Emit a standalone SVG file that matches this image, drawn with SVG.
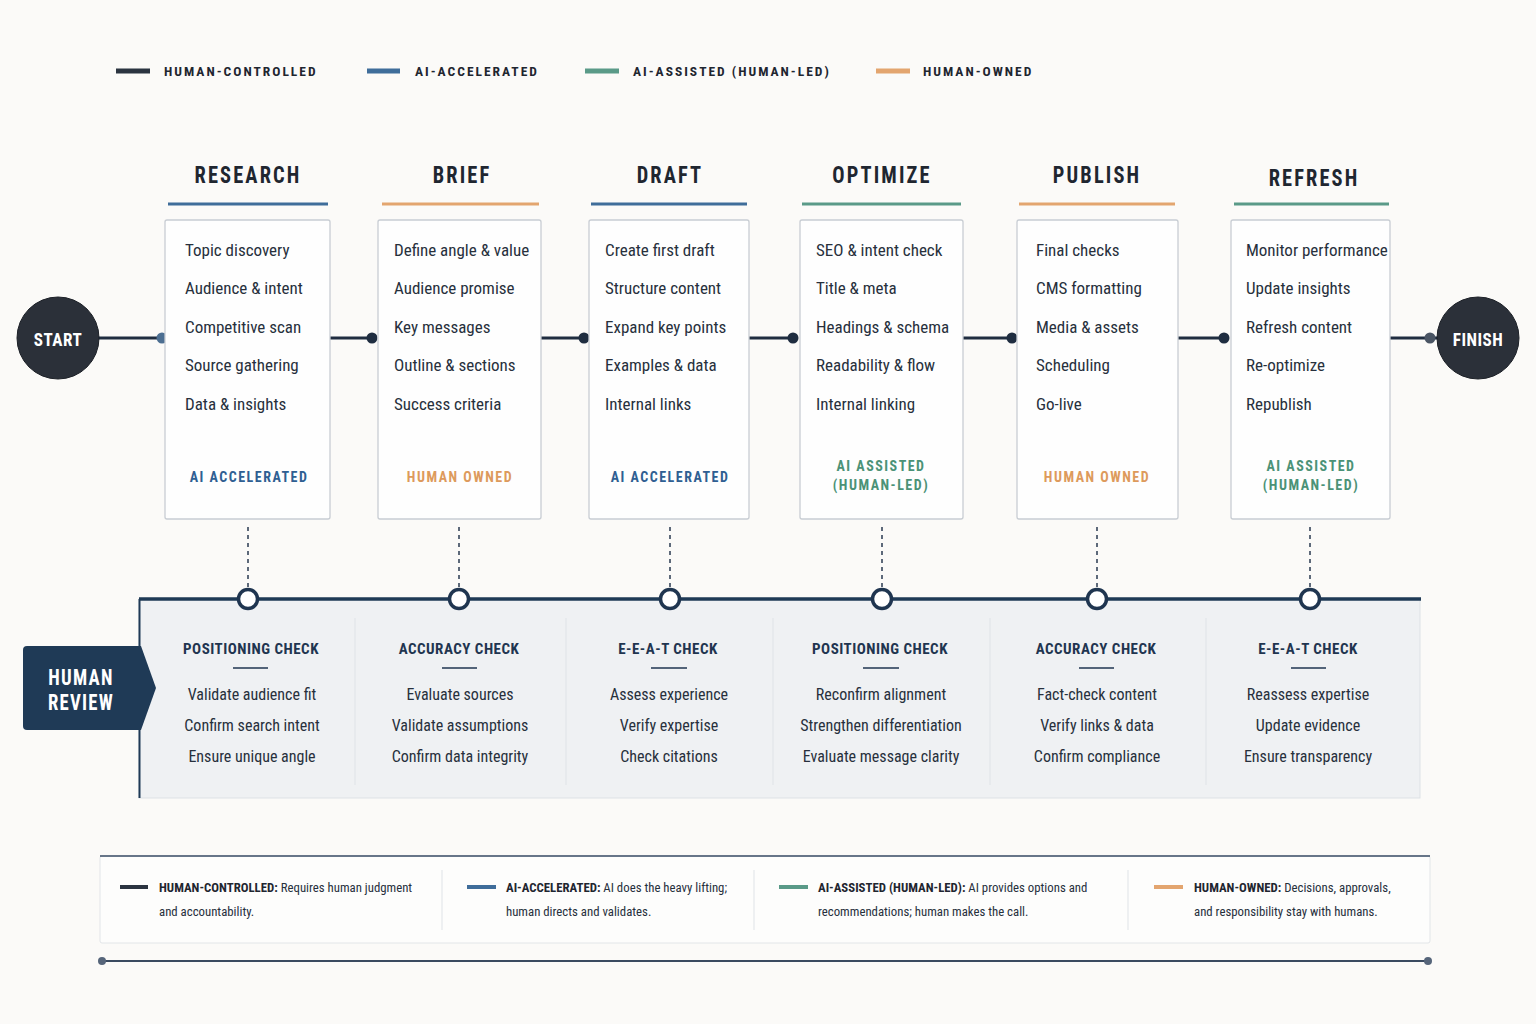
<svg xmlns="http://www.w3.org/2000/svg" width="1536" height="1024" viewBox="0 0 1536 1024">
<style>
text{font-family:"Roboto Condensed","Liberation Sans Narrow","DejaVu Sans Condensed","Roboto",sans-serif;transform-box:fill-box;}
.leg{font-size:13.5px;letter-spacing:2px;fill:#1f2630;font-weight:bold;}
.title{font-size:24px;font-weight:bold;letter-spacing:2.5px;fill:#1f2630;text-anchor:middle;transform:scaleX(0.85);transform-origin:center;}
.box{fill:#fefefe;stroke:#c8cdd3;stroke-width:1.3;}
.item{font-size:17px;fill:#27303c;}
.tag{font-size:14px;font-weight:bold;letter-spacing:1.5px;text-anchor:middle;}
.blue{fill:#2f5f92;} .orange{fill:#dd9a5c;} .green{fill:#4b9277;}
.conn{stroke:#1f2d40;stroke-width:3;fill:none;}
.dot{fill:#1f2d40;}
.vdash{stroke:#2a3a50;stroke-width:1.5;stroke-dasharray:4 4;}
.ring{fill:#ffffff;stroke:#1f3550;stroke-width:3.5;}
.rh{font-size:15px;font-weight:bold;fill:#1f3550;text-anchor:middle;letter-spacing:0.5px;}
.ri{font-size:16px;fill:#27303c;text-anchor:middle;}
.rdiv{stroke:#dfe3e7;stroke-width:1;}
.bl{font-size:12.8px;fill:#27303c;}
.blb{font-weight:bold;fill:#1f2630;}
.circ{font-size:19px;font-weight:bold;fill:#ffffff;letter-spacing:0.5px;text-anchor:middle;transform:scaleX(0.9);transform-origin:center;}
.hr{font-size:22px;font-weight:bold;fill:#ffffff;letter-spacing:1.5px;text-anchor:middle;transform:scaleX(0.85);transform-origin:center;}
</style>
<rect width="1536" height="1024" fill="#fbfaf8"/>

<!-- top legend -->
<g id="legend-top">
<line x1="116" y1="71" x2="150" y2="71" stroke="#2b3440" stroke-width="5"/>
<text class="leg" x="164" y="76">HUMAN-CONTROLLED</text>
<line x1="367" y1="71" x2="400" y2="71" stroke="#3f6d9a" stroke-width="5"/>
<text class="leg" x="415" y="76">AI-ACCELERATED</text>
<line x1="585" y1="71" x2="619" y2="71" stroke="#5a9a88" stroke-width="5"/>
<text class="leg" x="633" y="76">AI-ASSISTED (HUMAN-LED)</text>
<line x1="876" y1="71" x2="910" y2="71" stroke="#e3a56f" stroke-width="5"/>
<text class="leg" x="923" y="76">HUMAN-OWNED</text>
</g>

<!-- connectors -->
<g id="connectors">
<line class="conn" x1="98" y1="338" x2="162" y2="338" stroke="#2d4866"/>
<line class="conn" x1="330" y1="338" x2="372" y2="338"/>
<line class="conn" x1="541" y1="338" x2="584" y2="338"/>
<line class="conn" x1="749" y1="338" x2="793" y2="338"/>
<line class="conn" x1="963" y1="338" x2="1012" y2="338"/>
<line class="conn" x1="1178" y1="338" x2="1224" y2="338"/>
<line class="conn" x1="1390" y1="338" x2="1438" y2="338"/>
<circle cx="162" cy="338" r="5.5" fill="#4d6f92"/>
<circle class="dot" cx="372" cy="338" r="5.5"/>
<circle class="dot" cx="584" cy="338" r="5.5"/>
<circle class="dot" cx="793" cy="338" r="5.5"/>
<circle class="dot" cx="1012" cy="338" r="5.5"/>
<circle class="dot" cx="1224" cy="338" r="5.5"/>
<circle cx="1430" cy="338" r="5.5" fill="#4a5564"/>
<line class="vdash" x1="248" y1="527" x2="248" y2="589"/>
<line class="vdash" x1="459" y1="527" x2="459" y2="589"/>
<line class="vdash" x1="670" y1="527" x2="670" y2="589"/>
<line class="vdash" x1="882" y1="527" x2="882" y2="589"/>
<line class="vdash" x1="1097" y1="527" x2="1097" y2="589"/>
<line class="vdash" x1="1310" y1="527" x2="1310" y2="589"/>
</g>

<!-- start / finish -->
<g id="start">
<circle cx="58" cy="338" r="41" fill="#2b3039" stroke="#1c2027" stroke-width="1"/>
<text class="circ" x="58" y="346">START</text>
</g>
<g id="finish">
<circle cx="1478" cy="338" r="41" fill="#2b3039" stroke="#1c2027" stroke-width="1"/>
<text class="circ" x="1478" y="346">FINISH</text>
</g>

<!-- RESEARCH -->
<g id="research">
<text class="title" x="248" y="183">RESEARCH</text>
<line x1="168" y1="204" x2="328" y2="204" stroke="#3f6d9a" stroke-width="3"/>
<rect class="box" x="165" y="220" width="165" height="299" rx="2"/>
<text class="item" x="185" y="256">Topic discovery</text>
<text class="item" x="185" y="294">Audience &amp; intent</text>
<text class="item" x="185" y="333">Competitive scan</text>
<text class="item" x="185" y="371">Source gathering</text>
<text class="item" x="185" y="410">Data &amp; insights</text>
<text class="tag blue" x="249" y="482">AI ACCELERATED</text>
</g>

<!-- BRIEF -->
<g id="brief">
<text class="title" x="462" y="183">BRIEF</text>
<line x1="382" y1="204" x2="539" y2="204" stroke="#e3a56f" stroke-width="3"/>
<rect class="box" x="378" y="220" width="163" height="299" rx="2"/>
<text class="item" x="394" y="256">Define angle &amp; value</text>
<text class="item" x="394" y="294">Audience promise</text>
<text class="item" x="394" y="333">Key messages</text>
<text class="item" x="394" y="371">Outline &amp; sections</text>
<text class="item" x="394" y="410">Success criteria</text>
<text class="tag orange" x="460" y="482">HUMAN OWNED</text>
</g>

<!-- DRAFT -->
<g id="draft">
<text class="title" x="670" y="183">DRAFT</text>
<line x1="591" y1="204" x2="747" y2="204" stroke="#3f6d9a" stroke-width="3"/>
<rect class="box" x="589" y="220" width="160" height="299" rx="2"/>
<text class="item" x="605" y="256">Create first draft</text>
<text class="item" x="605" y="294">Structure content</text>
<text class="item" x="605" y="333">Expand key points</text>
<text class="item" x="605" y="371">Examples &amp; data</text>
<text class="item" x="605" y="410">Internal links</text>
<text class="tag blue" x="670" y="482">AI ACCELERATED</text>
</g>

<!-- OPTIMIZE -->
<g id="optimize">
<text class="title" x="882" y="183">OPTIMIZE</text>
<line x1="802" y1="204" x2="961" y2="204" stroke="#5a9a88" stroke-width="3"/>
<rect class="box" x="800" y="220" width="163" height="299" rx="2"/>
<text class="item" x="816" y="256">SEO &amp; intent check</text>
<text class="item" x="816" y="294">Title &amp; meta</text>
<text class="item" x="816" y="333">Headings &amp; schema</text>
<text class="item" x="816" y="371">Readability &amp; flow</text>
<text class="item" x="816" y="410">Internal linking</text>
<text class="tag green" x="881" y="471">AI ASSISTED</text>
<text class="tag green" x="881" y="490">(HUMAN-LED)</text>
</g>

<!-- PUBLISH -->
<g id="publish">
<text class="title" x="1097" y="183">PUBLISH</text>
<line x1="1019" y1="204" x2="1175" y2="204" stroke="#e3a56f" stroke-width="3"/>
<rect class="box" x="1017" y="220" width="161" height="299" rx="2"/>
<text class="item" x="1036" y="256">Final checks</text>
<text class="item" x="1036" y="294">CMS formatting</text>
<text class="item" x="1036" y="333">Media &amp; assets</text>
<text class="item" x="1036" y="371">Scheduling</text>
<text class="item" x="1036" y="410">Go-live</text>
<text class="tag orange" x="1097" y="482">HUMAN OWNED</text>
</g>

<!-- REFRESH -->
<g id="refresh">
<text class="title" x="1314" y="186">REFRESH</text>
<line x1="1234" y1="204" x2="1389" y2="204" stroke="#5a9a88" stroke-width="3"/>
<rect class="box" x="1231" y="220" width="159" height="299" rx="2"/>
<text class="item" x="1246" y="256">Monitor performance</text>
<text class="item" x="1246" y="294">Update insights</text>
<text class="item" x="1246" y="333">Refresh content</text>
<text class="item" x="1246" y="371">Re-optimize</text>
<text class="item" x="1246" y="410">Republish</text>
<text class="tag green" x="1311" y="471">AI ASSISTED</text>
<text class="tag green" x="1311" y="490">(HUMAN-LED)</text>
</g>

<!-- HUMAN REVIEW panel -->
<g id="human-review">
<rect x="139" y="599" width="1281" height="199" fill="#eff1f3" stroke="#dde1e5" stroke-width="1"/>
<line x1="139" y1="599" x2="1421" y2="599" stroke="#1f3a56" stroke-width="3.5"/>
<line x1="139.5" y1="599" x2="139.5" y2="798" stroke="#1f3a56" stroke-width="2"/>
<line class="rdiv" x1="355" y1="618" x2="355" y2="785"/>
<line class="rdiv" x1="566" y1="618" x2="566" y2="785"/>
<line class="rdiv" x1="773" y1="618" x2="773" y2="785"/>
<line class="rdiv" x1="990" y1="618" x2="990" y2="785"/>
<line class="rdiv" x1="1206" y1="618" x2="1206" y2="785"/>
<path d="M23,650 Q23,646 27,646 L141,646 L156,688 L141,730 L27,730 Q23,730 23,726 Z" fill="#1f3a56"/>
<text class="hr" x="81" y="685">HUMAN</text>
<text class="hr" x="81" y="710">REVIEW</text>
</g>

<g id="review-rings">
<circle class="ring" cx="248" cy="599" r="9.5"/>
<circle class="ring" cx="459" cy="599" r="9.5"/>
<circle class="ring" cx="670" cy="599" r="9.5"/>
<circle class="ring" cx="882" cy="599" r="9.5"/>
<circle class="ring" cx="1097" cy="599" r="9.5"/>
<circle class="ring" cx="1310" cy="599" r="9.5"/>
</g>

<g id="review-1">
<text class="rh" x="251" y="654">POSITIONING CHECK</text>
<line x1="233" y1="668" x2="268" y2="668" stroke="#1f3550" stroke-width="1.5"/>
<text class="ri" x="252" y="700">Validate audience fit</text>
<text class="ri" x="252" y="731">Confirm search intent</text>
<text class="ri" x="252" y="762">Ensure unique angle</text>
</g>
<g id="review-2">
<text class="rh" x="459" y="654">ACCURACY CHECK</text>
<line x1="442" y1="668" x2="477" y2="668" stroke="#1f3550" stroke-width="1.5"/>
<text class="ri" x="460" y="700">Evaluate sources</text>
<text class="ri" x="460" y="731">Validate assumptions</text>
<text class="ri" x="460" y="762">Confirm data integrity</text>
</g>
<g id="review-3">
<text class="rh" x="668" y="654">E-E-A-T CHECK</text>
<line x1="651" y1="668" x2="687" y2="668" stroke="#1f3550" stroke-width="1.5"/>
<text class="ri" x="669" y="700">Assess experience</text>
<text class="ri" x="669" y="731">Verify expertise</text>
<text class="ri" x="669" y="762">Check citations</text>
</g>
<g id="review-4">
<text class="rh" x="880" y="654">POSITIONING CHECK</text>
<line x1="863" y1="668" x2="899" y2="668" stroke="#1f3550" stroke-width="1.5"/>
<text class="ri" x="881" y="700">Reconfirm alignment</text>
<text class="ri" x="881" y="731">Strengthen differentiation</text>
<text class="ri" x="881" y="762">Evaluate message clarity</text>
</g>
<g id="review-5">
<text class="rh" x="1096" y="654">ACCURACY CHECK</text>
<line x1="1079" y1="668" x2="1114" y2="668" stroke="#1f3550" stroke-width="1.5"/>
<text class="ri" x="1097" y="700">Fact-check content</text>
<text class="ri" x="1097" y="731">Verify links &amp; data</text>
<text class="ri" x="1097" y="762">Confirm compliance</text>
</g>
<g id="review-6">
<text class="rh" x="1308" y="654">E-E-A-T CHECK</text>
<line x1="1291" y1="668" x2="1326" y2="668" stroke="#1f3550" stroke-width="1.5"/>
<text class="ri" x="1308" y="700">Reassess expertise</text>
<text class="ri" x="1308" y="731">Update evidence</text>
<text class="ri" x="1308" y="762">Ensure transparency</text>
</g>

<!-- bottom legend -->
<g id="legend-bottom">
<rect x="100" y="856" width="1330" height="87" fill="#fdfdfc" stroke="#e2e5e8" stroke-width="1" rx="2"/>
<line x1="100" y1="856" x2="1430" y2="856" stroke="#3a4d66" stroke-width="1.5"/>
<line class="rdiv" x1="442" y1="870" x2="442" y2="930"/>
<line class="rdiv" x1="754" y1="870" x2="754" y2="930"/>
<line class="rdiv" x1="1128" y1="870" x2="1128" y2="930"/>
<line x1="120" y1="887" x2="148" y2="887" stroke="#2b3440" stroke-width="4"/>
<text class="bl" x="159" y="892"><tspan class="blb">HUMAN-CONTROLLED:</tspan> Requires human judgment</text>
<text class="bl" x="159" y="916">and accountability.</text>
<line x1="467" y1="887" x2="496" y2="887" stroke="#3f6d9a" stroke-width="4"/>
<text class="bl" x="506" y="892"><tspan class="blb">AI-ACCELERATED:</tspan> AI does the heavy lifting;</text>
<text class="bl" x="506" y="916">human directs and validates.</text>
<line x1="779" y1="887" x2="808" y2="887" stroke="#5a9a88" stroke-width="4"/>
<text class="bl" x="818" y="892"><tspan class="blb">AI-ASSISTED (HUMAN-LED):</tspan> AI provides options and</text>
<text class="bl" x="818" y="916">recommendations; human makes the call.</text>
<line x1="1154" y1="887" x2="1183" y2="887" stroke="#e3a56f" stroke-width="4"/>
<text class="bl" x="1194" y="892"><tspan class="blb">HUMAN-OWNED:</tspan> Decisions, approvals,</text>
<text class="bl" x="1194" y="916">and responsibility stay with humans.</text>
</g>

<g id="baseline">
<line x1="102" y1="961" x2="1428" y2="961" stroke="#3a4a60" stroke-width="2"/>
<circle cx="102" cy="961" r="4" fill="#56657a"/>
<circle cx="1428" cy="961" r="4" fill="#56657a"/>
</g>
</svg>
